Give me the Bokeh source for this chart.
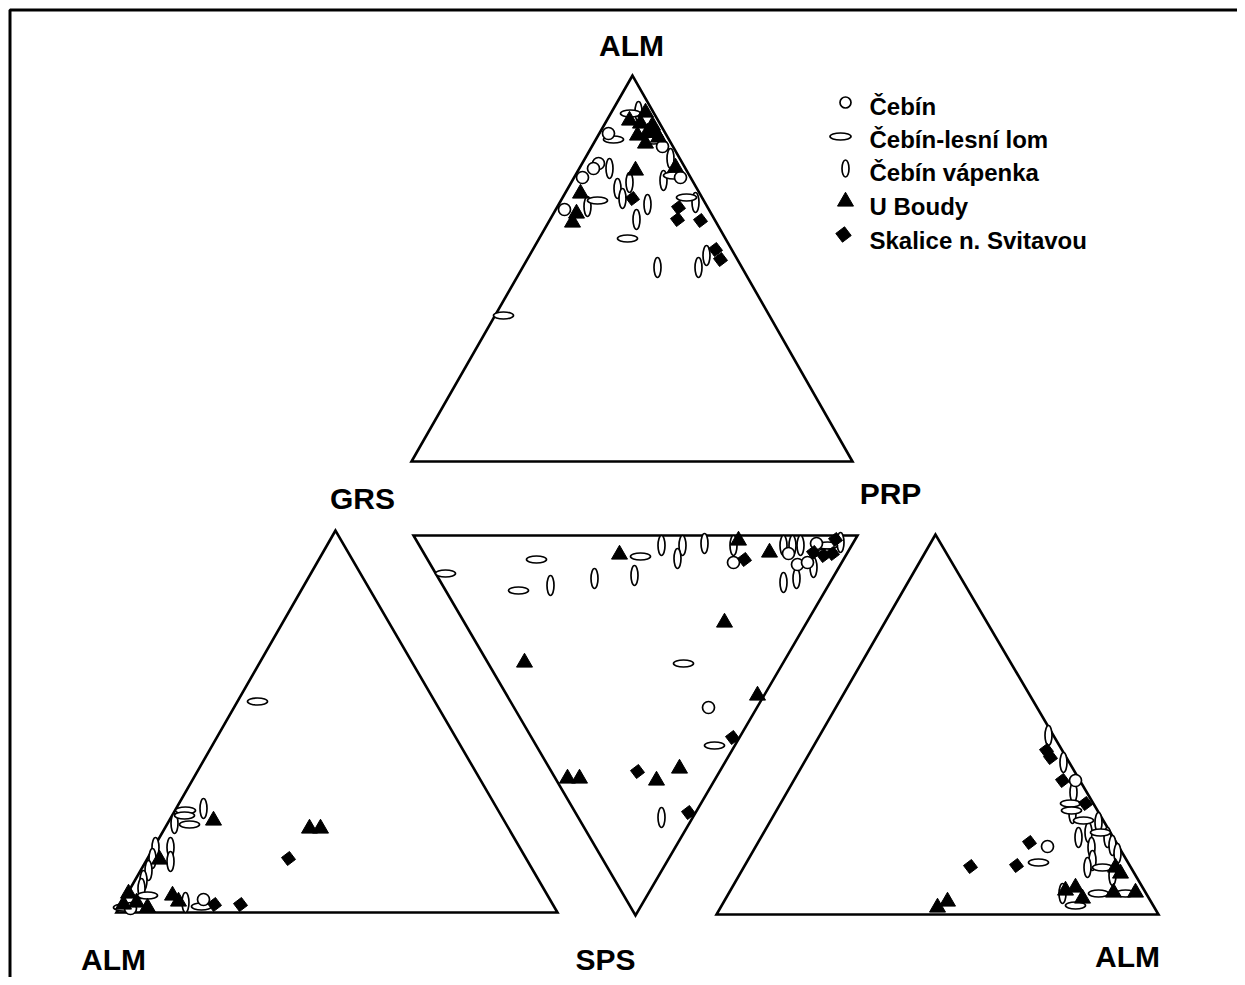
import math
from bokeh.plotting import figure
from bokeh.models import Range1d
from bokeh.core.properties import value
from bokeh.embed import file_html
from bokeh.resources import INLINE

# ---------------- data (positions in the sheet's drawing units) ----------------
# Top diagram (ALM apex)
top_cebin_x = [608, 582, 598, 593, 564, 662, 680]
top_cebin_y = [133, 177, 163, 168, 209, 146, 177]
top_lesni_x = [630, 613, 653, 673, 597, 686, 627, 503]
top_lesni_y = [113, 139, 140, 175, 200, 197, 238, 315]
top_vapenka_x = [638, 670, 663, 609, 629, 617, 622, 587, 647, 636, 695, 706, 657, 698]
top_vapenka_y = [111, 158, 180, 168, 182, 188, 198, 206, 204, 219, 202, 255, 267, 267]
top_boudy_x = [629, 645, 640, 652, 637, 647, 655, 645, 658, 675, 635, 580, 576, 572]
top_boudy_y = [120, 112, 123, 125, 135, 132, 132, 143, 137, 167, 170, 193, 213, 222]
top_skalice_x = [632, 678, 677, 700, 715, 720]
top_skalice_y = [198, 207, 219, 220, 249, 259]

# Middle (inverted) diagram: GRS - PRP - SPS
mid_cebin_x = [733, 788, 797, 807, 816, 708]
mid_cebin_y = [562, 553, 564, 562, 543, 707]
mid_lesni_x = [445, 536, 518, 640, 827, 826, 683, 714]
mid_lesni_y = [573, 559, 590, 556, 545, 552, 663, 745]
mid_vapenka_x = [550, 594, 634, 661, 682, 677, 704, 733, 783, 792, 800, 783, 796, 813, 840, 661]
mid_vapenka_y = [585, 578, 575, 545, 545, 558, 543, 545, 545, 545, 545, 582, 578, 567, 542, 817]
mid_boudy_x = [619, 738, 769, 724, 524, 757, 567, 579, 656, 679]
mid_boudy_y = [554, 540, 552, 622, 662, 695, 778, 778, 780, 768]
mid_skalice_x = [744, 813, 823, 832, 835, 732, 637, 688]
mid_skalice_y = [559, 552, 555, 553, 539, 737, 771, 812]

# Bottom-left diagram: GRS apex, ALM left
bl_cebin_x = [130, 203]
bl_cebin_y = [908, 899]
bl_lesni_x = [185, 184, 189, 147, 123, 201, 257]
bl_lesni_y = [810, 815, 824, 895, 907, 906, 701]
bl_vapenka_x = [203, 174, 170, 170, 155, 152, 148, 143, 141, 185]
bl_vapenka_y = [808, 823, 847, 861, 847, 858, 870, 880, 888, 902]
bl_boudy_x = [213, 309, 320, 159, 128, 136, 147, 123, 172, 178]
bl_boudy_y = [820, 828, 828, 859, 893, 902, 907, 904, 895, 901]
bl_skalice_x = [288, 214, 240]
bl_skalice_y = [858, 904, 904]

# Bottom-right diagram: ALM right
br_cebin_x = [1075, 1047]
br_cebin_y = [780, 846]
br_lesni_x = [1070, 1071, 1083, 1100, 1038, 1102, 1098, 1125, 1075]
br_lesni_y = [803, 810, 820, 832, 862, 867, 893, 893, 905]
br_vapenka_x = [1048, 1063, 1073, 1072, 1088, 1098, 1078, 1107, 1112, 1091, 1117, 1092, 1087, 1112, 1062]
br_vapenka_y = [735, 762, 792, 813, 832, 822, 837, 837, 845, 847, 853, 860, 867, 875, 893]
br_boudy_x = [1115, 1120, 1065, 1075, 1082, 1113, 1135, 937, 947]
br_boudy_y = [867, 873, 890, 887, 898, 892, 892, 907, 901]
br_skalice_x = [1046, 1050, 1062, 1085, 1029, 1016, 970]
br_skalice_y = [750, 757, 780, 803, 842, 865, 866]

series_names = ["Čebín", "Čebín-lesní lom", "Čebín vápenka", "U Boudy", "Skalice n. Svitavou"]
corner_labels = ["ALM", "GRS", "PRP", "ALM", "SPS", "ALM"]

# ---------------- layout ----------------
W, H = 1237, 977
p = figure(width=W, height=H, x_range=Range1d(0, W), y_range=Range1d(H, 0),
           output_backend="svg", toolbar_location=None, min_border=0)
p.axis.visible = False
p.grid.visible = False
p.outline_line_color = None
p.background_fill_color = "white"
p.border_fill_color = "white"

# frame (top and left edges of the sheet)
p.line([9.5, 9.5, 1260], [1000, 9.5, 9.5], line_color="black", line_width=3)

# triangles
tri_xs = [[632, 411, 852], [335, 116, 557], [413, 857, 635], [935, 716, 1158]]
tri_ys = [[75, 461, 461], [530, 912, 912], [535, 535, 915], [534, 914, 914]]
p.patches(tri_xs, tri_ys, fill_color=None, line_color="black", line_width=2.6, line_join="miter")

FONT = value("Liberation Sans")

# corner labels (y = visual centre of the word)
lab_x = [631, 362, 890, 113, 605, 1127]
lab_y = [45, 498, 493, 959, 959, 956]
p.text(lab_x, lab_y, text=corner_labels, text_font=FONT, text_font_style="bold",
       text_font_size="30px", text_align="center", text_baseline="alphabetic", text_color="black")

ELL = dict(fill_color="white", line_color="black", line_width=1.7)


def draw(cx, cy, lx, ly, vx, vy, tx, ty, dx, dy):
    p.ellipse(vx, vy, width=7, height=20, **ELL)
    p.ellipse(lx, ly, width=20, height=7, **ELL)
    p.scatter(cx, cy, marker="circle", size=12, **ELL)
    p.scatter(tx, ty, marker="triangle", size=16, fill_color="black", line_color="black", line_width=1)
    p.scatter(dx, dy, marker="square", angle=0.65, size=10, fill_color="black", line_color="black", line_width=1)


draw(top_cebin_x, top_cebin_y, top_lesni_x, top_lesni_y, top_vapenka_x, top_vapenka_y,
     top_boudy_x, top_boudy_y, top_skalice_x, top_skalice_y)
draw(mid_cebin_x, mid_cebin_y, mid_lesni_x, mid_lesni_y, mid_vapenka_x, mid_vapenka_y,
     mid_boudy_x, mid_boudy_y, mid_skalice_x, mid_skalice_y)
draw(bl_cebin_x, bl_cebin_y, bl_lesni_x, bl_lesni_y, bl_vapenka_x, bl_vapenka_y,
     bl_boudy_x, bl_boudy_y, bl_skalice_x, bl_skalice_y)
draw(br_cebin_x, br_cebin_y, br_lesni_x, br_lesni_y, br_vapenka_x, br_vapenka_y,
     br_boudy_x, br_boudy_y, br_skalice_x, br_skalice_y)

# legend
p.scatter([845], [102], marker="circle", size=11, **ELL)
p.ellipse([840], [136], width=21, height=7, **ELL)
p.ellipse([845], [168], width=7, height=17, **ELL)
p.scatter([845], [201], marker="triangle", size=16, fill_color="black", line_color="black")
p.scatter([843], [234], marker="square", angle=0.65, size=11, fill_color="black", line_color="black")
p.text([869] * 5, [106, 139, 172, 206, 240], text=series_names, text_font=FONT,
       text_font_style="bold", text_font_size="24px", text_align="left",
       text_baseline="alphabetic", text_color="black")

open("out.html", "w").write(file_html(p, INLINE))
